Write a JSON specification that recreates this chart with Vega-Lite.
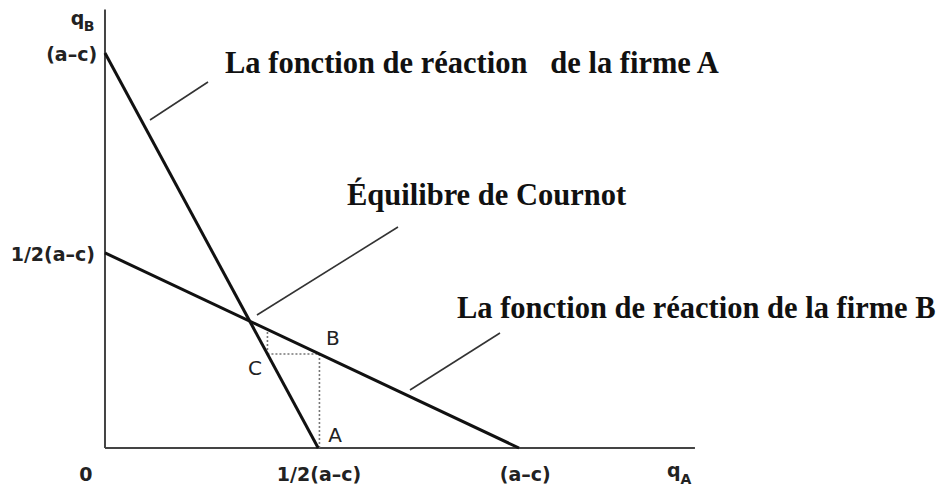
{
  "$schema": "https://vega.github.io/schema/vega-lite/v6.json",
  "width": 946,
  "height": 493,
  "autosize": {"type": "fit", "contains": "padding"},
  "padding": 0,
  "background": "white",
  "config": {"view": {"stroke": null}},
  "datasets": {
    "segments": [
      {"kind": "axis", "x0": 0, "y0": 0, "x1": 0, "y1": 1.11},
      {"kind": "axis", "x0": 0, "y0": 0, "x1": 1.425, "y1": 0},
      {"kind": "reaction", "x0": 0, "y0": 1.0, "x1": 0.515, "y1": 0},
      {"kind": "reaction", "x0": 0, "y0": 0.494, "x1": 1.0, "y1": 0},
      {"kind": "dotted", "x0": 0.3924, "y0": 0.238, "x1": 0.3924, "y1": 0.3},
      {"kind": "dotted", "x0": 0.3924, "y0": 0.238, "x1": 0.518, "y1": 0.238},
      {"kind": "dotted", "x0": 0.518, "y0": 0.238, "x1": 0.518, "y1": 0},
      {"kind": "leader", "x0": 0.1087, "y0": 0.8304, "x1": 0.2488, "y1": 0.9266},
      {"kind": "leader", "x0": 0.3671, "y0": 0.3367, "x1": 0.7077, "y1": 0.5595},
      {"kind": "leader", "x0": 0.7367, "y0": 0.1468, "x1": 0.9541, "y1": 0.2911}
    ],
    "annotations": [
      {"label": "La fonction de réaction\u00a0\u00a0\u00a0de la firme A", "x": 0.2899, "y": 0.9494},
      {"label": "Équilibre de Cournot", "x": 0.5845, "y": 0.6152},
      {"label": "La fonction de réaction de la firme B", "x": 0.8502, "y": 0.3291}
    ],
    "ylabels": [
      {"label": "(a–c)", "x": -0.019, "y": 0.995},
      {"label": "1/2(a–c)", "x": -0.024, "y": 0.4886}
    ],
    "clabels": [
      {"label": "0", "x": -0.046, "y": -0.0684},
      {"label": "1/2(a–c)", "x": 0.517, "y": -0.0684},
      {"label": "(a–c)", "x": 1.015, "y": -0.0684},
      {"label": "q", "x": 1.374, "y": -0.058},
      {"label": "q", "x": -0.0664, "y": 1.0873}
    ],
    "plabels": [
      {"label": "B", "x": 0.5507, "y": 0.2759},
      {"label": "C", "x": 0.3623, "y": 0.2},
      {"label": "A", "x": 0.5556, "y": 0.0304}
    ],
    "subs": [
      {"label": "A", "x": 1.4034, "y": -0.081},
      {"label": "B", "x": -0.0386, "y": 1.0646}
    ]
  },
  "encoding": {
    "x": {"type": "quantitative", "scale": {"domain": [-0.2536, 2.0314], "nice": false, "zero": false}, "axis": null},
    "y": {"type": "quantitative", "scale": {"domain": [-0.1139, 1.1342], "nice": false, "zero": false}, "axis": null}
  },
  "layer": [
    {
      "data": {"name": "segments"},
      "transform": [{"filter": "datum.kind === 'axis'"}],
      "mark": {"type": "rule", "color": "#444", "strokeWidth": 2},
      "encoding": {"x": {"field": "x0"}, "y": {"field": "y0"}, "x2": {"field": "x1"}, "y2": {"field": "y1"}}
    },
    {
      "data": {"name": "segments"},
      "transform": [{"filter": "datum.kind === 'dotted'"}],
      "mark": {"type": "rule", "color": "#777", "strokeWidth": 1.6, "strokeDash": [2, 2]},
      "encoding": {"x": {"field": "x0"}, "y": {"field": "y0"}, "x2": {"field": "x1"}, "y2": {"field": "y1"}}
    },
    {
      "data": {"name": "segments"},
      "transform": [{"filter": "datum.kind === 'leader'"}],
      "mark": {"type": "rule", "color": "#333", "strokeWidth": 1.6},
      "encoding": {"x": {"field": "x0"}, "y": {"field": "y0"}, "x2": {"field": "x1"}, "y2": {"field": "y1"}}
    },
    {
      "data": {"name": "segments"},
      "transform": [{"filter": "datum.kind === 'reaction'"}],
      "mark": {"type": "rule", "color": "#111", "strokeWidth": 3},
      "encoding": {"x": {"field": "x0"}, "y": {"field": "y0"}, "x2": {"field": "x1"}, "y2": {"field": "y1"}}
    },
    {
      "data": {"name": "annotations"},
      "mark": {"type": "text", "font": "Liberation Serif", "fontWeight": "bold", "fontSize": 30.5, "align": "left", "baseline": "alphabetic", "color": "#111"},
      "encoding": {"x": {"field": "x"}, "y": {"field": "y"}, "text": {"field": "label"}}
    },
    {
      "data": {"name": "ylabels"},
      "mark": {"type": "text", "font": "DejaVu Sans", "fontWeight": "bold", "fontSize": 19, "align": "right", "baseline": "middle", "color": "#222"},
      "encoding": {"x": {"field": "x"}, "y": {"field": "y"}, "text": {"field": "label"}}
    },
    {
      "data": {"name": "clabels"},
      "mark": {"type": "text", "font": "DejaVu Sans", "fontWeight": "bold", "fontSize": 19, "align": "center", "baseline": "middle", "color": "#222"},
      "encoding": {"x": {"field": "x"}, "y": {"field": "y"}, "text": {"field": "label"}}
    },
    {
      "data": {"name": "plabels"},
      "mark": {"type": "text", "font": "DejaVu Sans", "fontSize": 20, "align": "center", "baseline": "middle", "color": "#222"},
      "encoding": {"x": {"field": "x"}, "y": {"field": "y"}, "text": {"field": "label"}}
    },
    {
      "data": {"name": "subs"},
      "mark": {"type": "text", "font": "DejaVu Sans", "fontWeight": "bold", "fontSize": 14, "align": "center", "baseline": "middle", "color": "#222"},
      "encoding": {"x": {"field": "x"}, "y": {"field": "y"}, "text": {"field": "label"}}
    }
  ]
}
